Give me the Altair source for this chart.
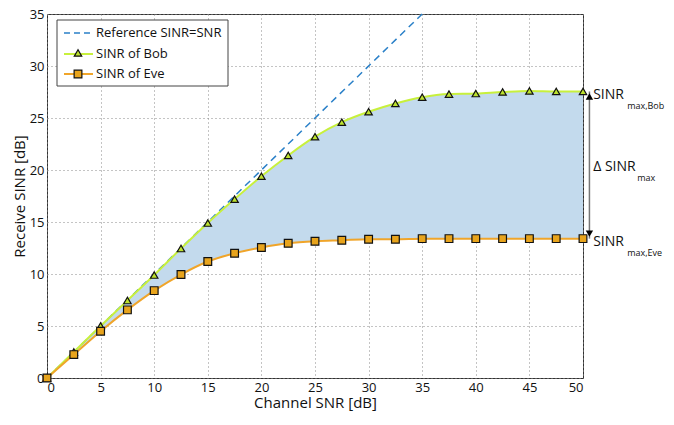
import altair as alt
import pandas as pd

snr = [0, 2.5, 5, 7.5, 10, 12.5, 15, 17.5, 20, 22.5, 25, 27.5, 30, 32.5, 35, 37.5, 40, 42.5, 45, 47.5, 50]
bob = [0, 2.5, 5.0, 7.45, 9.9, 12.45, 14.9, 17.2, 19.4, 21.4, 23.2, 24.6, 25.6, 26.4, 27.0, 27.3, 27.35, 27.5, 27.6, 27.55, 27.55]
eve = [0, 2.25, 4.5, 6.55, 8.4, 9.95, 11.2, 12.0, 12.55, 12.95, 13.15, 13.25, 13.35, 13.35, 13.4, 13.4, 13.4, 13.4, 13.4, 13.4, 13.4]
ref_x = [0, 35]
ref_y = [0, 35]
series_names = ["Reference SINR=SNR", "SINR of Bob", "SINR of Eve"]

df = pd.DataFrame({"snr": snr, "bob": bob, "eve": eve})
ref = pd.DataFrame({"snr": ref_x, "val": ref_y})

FONT = "Open Sans"
BLUE = "#2a80c8"
GREEN_LINE = "#c8f03c"
GREEN_FILL = "#bde22e"
ORANGE_LINE = "#f0a52a"
ORANGE_FILL = "#e8a41c"
AREA = "#c3daed"

xs = alt.Scale(domain=[0, 50], nice=False)
ys = alt.Scale(domain=[0, 35], nice=False)
xax = alt.Axis(values=list(range(0, 55, 5)), title="Channel SNR [dB]", grid=True,
               gridDash=[1, 3], gridColor="#888", ticks=False, labelFontSize=13,
               titleFontSize=15, labelFont=FONT, titleFont=FONT, labelColor="#111",
               titleColor="#111", titleFontWeight="normal", domain=False,
               labelPadding=3, titlePadding=1)
yax = alt.Axis(values=list(range(0, 40, 5)), title="Receive SINR [dB]", grid=True,
               gridDash=[1, 3], gridColor="#888", ticks=False, labelFontSize=13,
               titleFontSize=15, labelFont=FONT, titleFont=FONT, labelColor="#111",
               titleColor="#111", titleFontWeight="normal", domain=False,
               labelPadding=3, titlePadding=2)

X = alt.X("snr:Q", scale=xs)
base = alt.Chart(df)

area = base.mark_area(color=AREA, opacity=1, interpolate="monotone").encode(
    x=alt.X("snr:Q", scale=xs, axis=xax),
    y=alt.Y("bob:Q", scale=ys, axis=yax),
    y2="eve:Q",
)

refline = alt.Chart(ref).mark_line(color=BLUE, strokeDash=[7, 5], strokeWidth=1.5).encode(
    x=X, y=alt.Y("val:Q", scale=ys))

bob_line = base.mark_line(color=GREEN_LINE, strokeWidth=2, interpolate="monotone").encode(
    x=X, y=alt.Y("bob:Q", scale=ys))
eve_line = base.mark_line(color=ORANGE_LINE, strokeWidth=2, interpolate="monotone").encode(
    x=X, y=alt.Y("eve:Q", scale=ys))

bob_pts = base.mark_point(shape="triangle-up", size=55, filled=True, fill=GREEN_FILL,
                          stroke="#111", strokeWidth=1.2, opacity=1).encode(
    x=X, y=alt.Y("bob:Q", scale=ys))
eve_pts = base.mark_point(shape="square", size=60, filled=True, fill=ORANGE_FILL,
                          stroke="#111", strokeWidth=1.2, opacity=1).encode(
    x=X, y=alt.Y("eve:Q", scale=ys))

# right-hand annotation (arrow between last Bob and Eve values)
ann = pd.DataFrame({"x": [50.6], "top": [bob[-1]], "bot": [eve[-1]]})
AX = alt.X("x:Q", scale=xs)
arrow = alt.Chart(ann).mark_rule(color="#777", strokeWidth=1.5, clip=False).encode(
    x=AX, y=alt.Y("top:Q", scale=ys), y2="bot:Q")
head_top = alt.Chart(ann).mark_point(shape="triangle-up", size=55, filled=True, color="#000",
                                     opacity=1, clip=False, yOffset=5).encode(
    x=AX, y=alt.Y("top:Q", scale=ys))
head_bot = alt.Chart(ann).mark_point(shape="triangle-down", size=55, filled=True, color="#000",
                                     opacity=1, clip=False, yOffset=-5).encode(
    x=AX, y=alt.Y("bot:Q", scale=ys))

labels = pd.DataFrame({
    "x": [50.95, 50.95, 50.95],
    "y": [bob[-1] - 0.3, (bob[-1] + eve[-1]) / 2 - 0.2, eve[-1] - 0.3],
    "main": ["SINR", "\u0394 SINR", "SINR"],
    "sub": ["max,Bob", "max", "max,Eve"],
    "dx": [34, 44, 34],
})
LX = alt.X("x:Q", scale=xs)
LY = alt.Y("y:Q", scale=ys)
main_txt = alt.Chart(labels).mark_text(align="left", baseline="middle", font=FONT, fontSize=14,
                                       color="#111", clip=False).encode(x=LX, y=LY, text="main:N")
subs = []
for i in range(3):
    subs.append(alt.Chart(labels.iloc[[i]]).mark_text(
        align="left", baseline="middle", font=FONT, fontSize=9, color="#111", clip=False,
        dx=int(labels["dx"][i]), dy=11).encode(x=LX, y=LY, text="sub:N"))

# manual legend (pixel positions inside plot area)
one = pd.DataFrame({"a": [0]})
leg_box = alt.Chart(one).mark_rect(fill="white", stroke="#444", strokeWidth=1).encode(
    x=alt.value(10), x2=alt.value(181), y=alt.value(6), y2=alt.value(72))
leg_ref = alt.Chart(one).mark_rule(color=BLUE, strokeDash=[6, 4], strokeWidth=1.5).encode(
    x=alt.value(17), x2=alt.value(46), y=alt.value(19))
leg_bob = alt.Chart(one).mark_rule(color=GREEN_LINE, strokeWidth=2).encode(
    x=alt.value(17), x2=alt.value(46), y=alt.value(40))
leg_eve = alt.Chart(one).mark_rule(color=ORANGE_LINE, strokeWidth=2).encode(
    x=alt.value(17), x2=alt.value(46), y=alt.value(60))
leg_bob_pt = alt.Chart(one).mark_point(shape="triangle-up", size=55, filled=True,
                                       fill=GREEN_FILL, stroke="#111", strokeWidth=1.2,
                                       opacity=1).encode(x=alt.value(31), y=alt.value(39))
leg_eve_pt = alt.Chart(one).mark_point(shape="square", size=60, filled=True,
                                       fill=ORANGE_FILL, stroke="#111", strokeWidth=1.2,
                                       opacity=1).encode(x=alt.value(31), y=alt.value(60))
leg_txts = []
for name, row in zip(series_names, [19, 40, 60]):
    leg_txts.append(alt.Chart(pd.DataFrame({"label": [name]})).mark_text(
        align="left", baseline="middle", font=FONT, fontSize=13, color="#111").encode(
        x=alt.value(49), y=alt.value(row), text="label:N"))

chart = alt.layer(
    area, refline, bob_line, eve_line, bob_pts, eve_pts,
    arrow, head_top, head_bot, main_txt, *subs,
    leg_box, leg_ref, leg_bob, leg_eve, leg_bob_pt, leg_eve_pt, *leg_txts,
).properties(
    width=536, height=364,
    autosize=alt.AutoSizeParams(type="none"),
    padding={"left": 39, "top": 6, "right": 83, "bottom": 35},
).configure_view(stroke="#333", strokeWidth=1)

chart.save("out.html", embed_options={"renderer": "svg", "actions": False})
